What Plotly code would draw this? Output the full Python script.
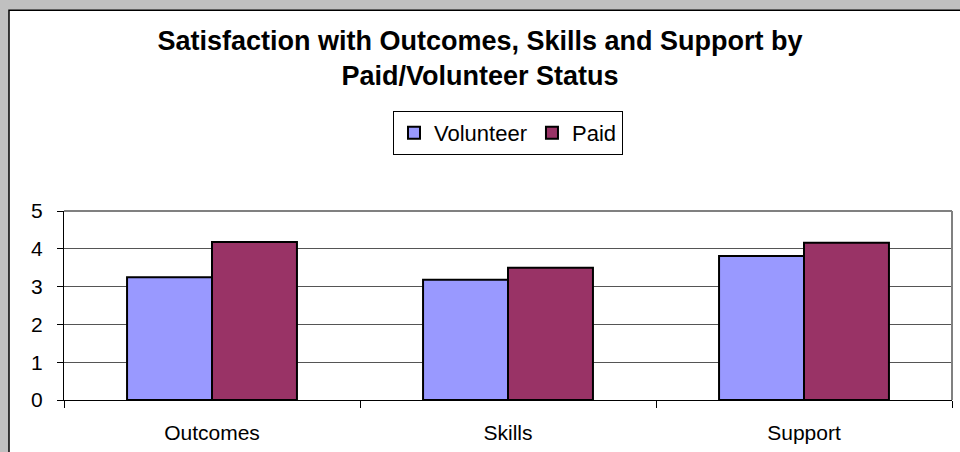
import plotly.graph_objects as go

categories = ["Outcomes", "Skills", "Support"]
volunteer = [3.25, 3.18, 3.81]
paid = [4.18, 3.50, 4.16]

# plot area in pixels: x 64..952, y 211..402
W, H = 960, 452
L, R, T, B = 64, 8, 211, 50
pw = W - L - R
ph = H - T - B


def px(x):
    return (x - L) / pw


def py(y):
    return (H - B - y) / ph


fig = go.Figure()
fig.add_trace(go.Bar(x=categories, y=volunteer, name="Volunteer",
                     marker=dict(color="#9999ff", line=dict(color="black", width=2))))
fig.add_trace(go.Bar(x=categories, y=paid, name="Paid",
                     marker=dict(color="#993366", line=dict(color="black", width=2))))

# white chart area with black edge on the grey window
fig.add_shape(type="rect", xref="paper", yref="paper", layer="below",
              x0=px(9), x1=px(975), y0=py(470), y1=py(8),
              fillcolor="white", line=dict(color="black", width=1.5))
# plot area frame (top/right)
fig.add_shape(type="line", xref="paper", yref="paper", x0=0, x1=1, y0=1, y1=1,
              line=dict(color="#808080", width=2))
fig.add_shape(type="line", xref="paper", yref="paper", x0=1, x1=1, y0=0, y1=1,
              line=dict(color="#808080", width=2))

fig.update_layout(
    width=W, height=H,
    margin=dict(l=L, r=R, t=T, b=B),
    paper_bgcolor="#c0c0c0",
    plot_bgcolor="white",
    font=dict(family="Liberation Sans, Arial", color="black"),
    title=dict(text="<b>Satisfaction with Outcomes, Skills and Support by<br>Paid/Volunteer Status</b>",
               x=0.5, xanchor="center", y=1 - 50 / H, yanchor="top",
               font=dict(size=27)),
    barmode="group",
    bargap=0.426,
    bargroupgap=0,
    showlegend=True,
    legend=dict(orientation="h", x=0.5, xanchor="center", y=py(110), yanchor="top",
                bgcolor="white", bordercolor="black", borderwidth=1,
                font=dict(size=22), itemwidth=30, traceorder="normal",
                itemclick=False),
    xaxis=dict(showline=True, linecolor="black", linewidth=1,
               ticks="outside", tickson="boundaries", ticklen=7, tickcolor="black",
               tickfont=dict(size=21), ticklabelstandoff=14),
    yaxis=dict(range=[0, 5], dtick=1, showline=True, linecolor="black", linewidth=1,
               ticks="outside", ticklen=6, tickcolor="black",
               showgrid=True, gridcolor="#555555", gridwidth=1,
               zeroline=False, tickfont=dict(size=21), ticklabelstandoff=10),
)

fig.write_html("out.html", config={"displayModeBar": False},
               post_script="document.body.style.margin='0';document.body.style.overflow='hidden';")
